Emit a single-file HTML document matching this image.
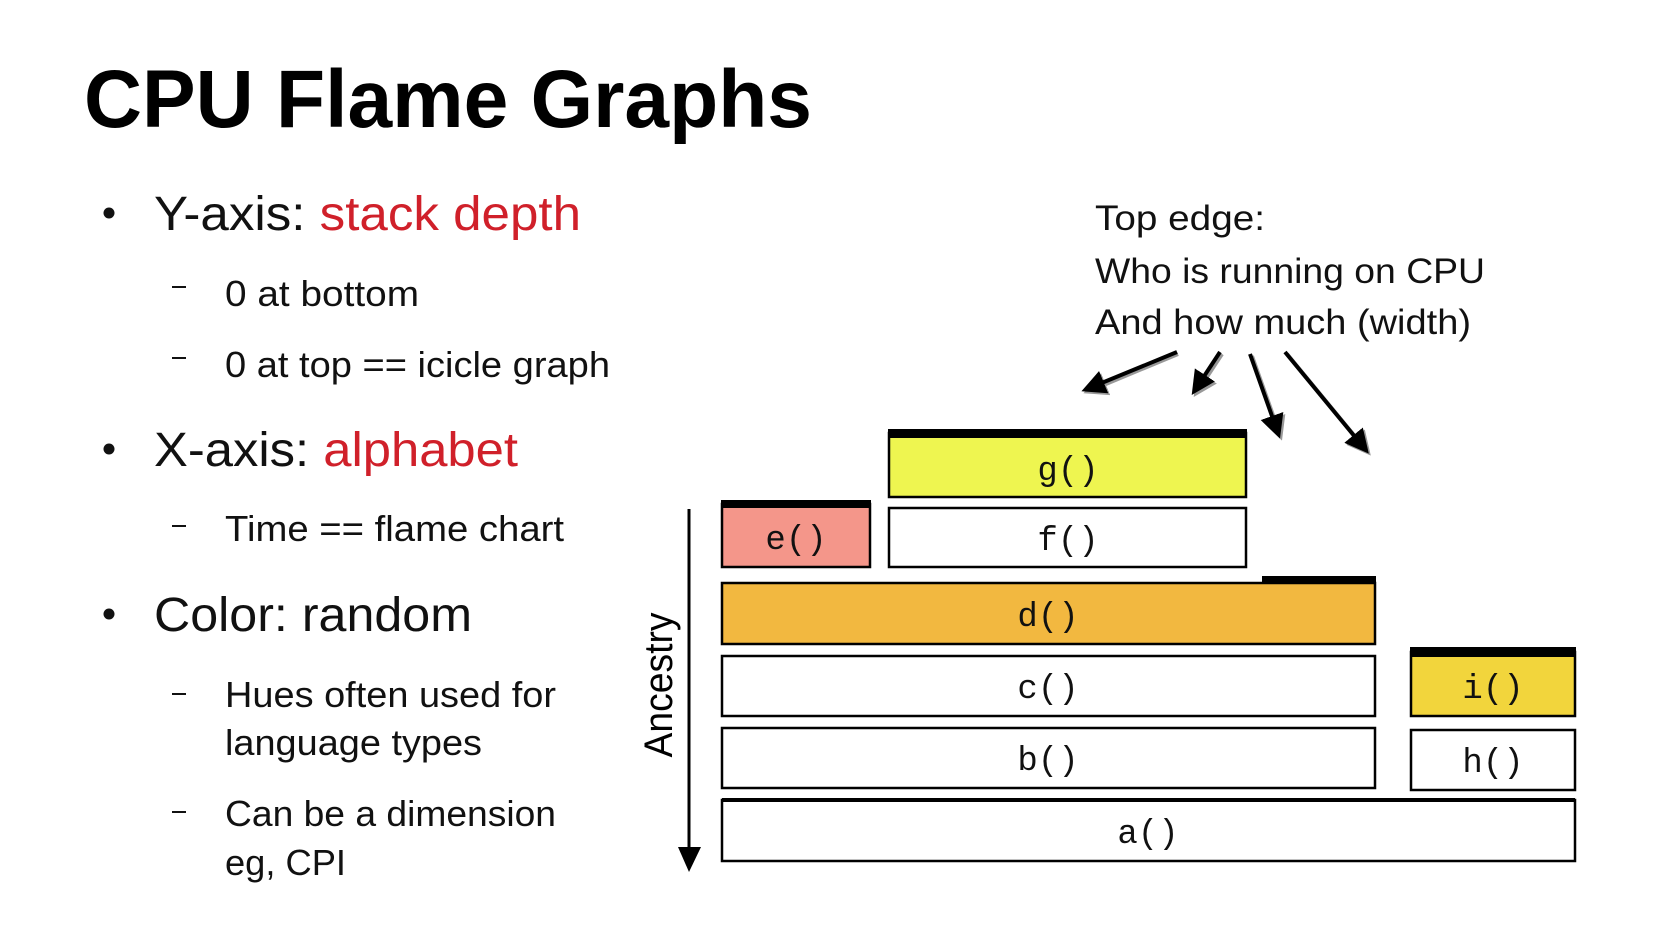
<!DOCTYPE html>
<html><head><meta charset="utf-8"><style>
html,body{margin:0;padding:0;background:#fff;}
svg{display:block;}
.t{font-family:"Liberation Sans",sans-serif;}
.m{font-family:"Liberation Mono",monospace;font-size:34px;text-anchor:middle;}
</style></head><body>
<svg width="1654" height="931" viewBox="0 0 1654 931" xmlns="http://www.w3.org/2000/svg">
<defs>
<marker id="ah" markerWidth="6" markerHeight="6" refX="4.5" refY="3" orient="auto" markerUnits="strokeWidth">
<path d="M0,0 L6,3 L0,6 z" fill="#000"/>
</marker>
<marker id="ahs" markerWidth="6" markerHeight="6" refX="4.5" refY="3" orient="auto" markerUnits="strokeWidth">
<path d="M0,0 L6,3 L0,6 z" fill="#999"/>
</marker>
</defs>
<text class="t" x="84" y="127" font-size="82" font-weight="bold" textLength="728" lengthAdjust="spacingAndGlyphs">CPU Flame Graphs</text>

<g class="t" fill="#111">
<circle cx="109" cy="213" r="5.5"/>
<text x="154" y="230" font-size="48" textLength="427" lengthAdjust="spacingAndGlyphs">Y-axis: <tspan fill="#d0202a">stack depth</tspan></text>
<rect x="172" y="286" width="14" height="2"/>
<text x="225" y="306" font-size="36" textLength="194" lengthAdjust="spacingAndGlyphs">0 at bottom</text>
<rect x="172" y="357" width="14" height="2"/>
<text x="225" y="377" font-size="36" textLength="385" lengthAdjust="spacingAndGlyphs">0 at top == icicle graph</text>
<circle cx="109" cy="449" r="5.5"/>
<text x="154" y="466" font-size="48" textLength="364" lengthAdjust="spacingAndGlyphs">X-axis: <tspan fill="#d0202a">alphabet</tspan></text>
<rect x="172" y="525" width="14" height="2"/>
<text x="225" y="541" font-size="36" textLength="339" lengthAdjust="spacingAndGlyphs">Time == flame chart</text>
<circle cx="109" cy="614" r="5.5"/>
<text x="154" y="631" font-size="48" textLength="318" lengthAdjust="spacingAndGlyphs">Color: random</text>
<rect x="172" y="693" width="14" height="2"/>
<text x="225" y="707" font-size="36" textLength="331" lengthAdjust="spacingAndGlyphs">Hues often used for</text>
<text x="225" y="755" font-size="36" textLength="257" lengthAdjust="spacingAndGlyphs">language types</text>
<rect x="172" y="811" width="14" height="2"/>
<text x="225" y="826" font-size="36" textLength="331" lengthAdjust="spacingAndGlyphs">Can be a dimension</text>
<text x="225" y="875" font-size="36" textLength="121" lengthAdjust="spacingAndGlyphs">eg, CPI</text>

<text x="1095" y="230" font-size="35" textLength="170" lengthAdjust="spacingAndGlyphs">Top edge:</text>
<text x="1095" y="283" font-size="35" textLength="390" lengthAdjust="spacingAndGlyphs">Who is running on CPU</text>
<text x="1095" y="334" font-size="35" textLength="376" lengthAdjust="spacingAndGlyphs">And how much (width)</text>
</g>

<g stroke="#999" stroke-width="4" fill="none">
<line x1="1178" y1="354" x2="1089" y2="391" marker-end="url(#ahs)"/>
<line x1="1222" y1="354" x2="1197" y2="392" marker-end="url(#ahs)"/>
<line x1="1252" y1="356" x2="1280" y2="435" marker-end="url(#ahs)"/>
<line x1="1287" y1="354" x2="1367" y2="451" marker-end="url(#ahs)"/>
</g>
<g stroke="#000" stroke-width="4" fill="none">
<line x1="1177" y1="352" x2="1087" y2="389" marker-end="url(#ah)"/>
<line x1="1220" y1="352" x2="1195" y2="390" marker-end="url(#ah)"/>
<line x1="1250" y1="354" x2="1278" y2="433" marker-end="url(#ah)"/>
<line x1="1285" y1="352" x2="1365" y2="449" marker-end="url(#ah)"/>
</g>

<line x1="689" y1="509" x2="689" y2="850" stroke="#000" stroke-width="3"/>
<path d="M678,847 L701,847 L689,872 z" fill="#000"/>
<text class="t" transform="translate(672,685) rotate(-90)" font-size="40" text-anchor="middle" textLength="145" lengthAdjust="spacingAndGlyphs">Ancestry</text>

<g stroke="#000" stroke-width="2.5">
<rect x="889" y="433" width="357" height="64" fill="#eef550"/>
<rect x="722" y="504" width="148" height="63" fill="#f4968a"/>
<rect x="889" y="508" width="357" height="59" fill="#fff"/>
<rect x="722" y="583" width="653" height="61" fill="#f2b840"/>
<rect x="722" y="656" width="653" height="60" fill="#fff"/>
<rect x="1411" y="652" width="164" height="64" fill="#f2d53c"/>
<rect x="722" y="728" width="653" height="60" fill="#fff"/>
<rect x="1411" y="730" width="164" height="60" fill="#fff"/>
<rect x="722" y="800" width="853" height="61" fill="#fff"/>
</g>
<rect x="888" y="429" width="359" height="9" fill="#000"/>
<rect x="721" y="500" width="150" height="8" fill="#000"/>
<rect x="1262" y="576" width="114" height="8" fill="#000"/>
<rect x="1410" y="647" width="166" height="10" fill="#000"/>
<rect x="722" y="798" width="853" height="4" fill="#000"/>

<g class="m" fill="#111">
<text x="1068" y="480">g()</text>
<text x="796" y="549">e()</text>
<text x="1068" y="550">f()</text>
<text x="1048" y="626">d()</text>
<text x="1048" y="698">c()</text>
<text x="1493" y="698">i()</text>
<text x="1048" y="770">b()</text>
<text x="1493" y="772">h()</text>
<text x="1148" y="843">a()</text>
</g>
</svg>
</body></html>
